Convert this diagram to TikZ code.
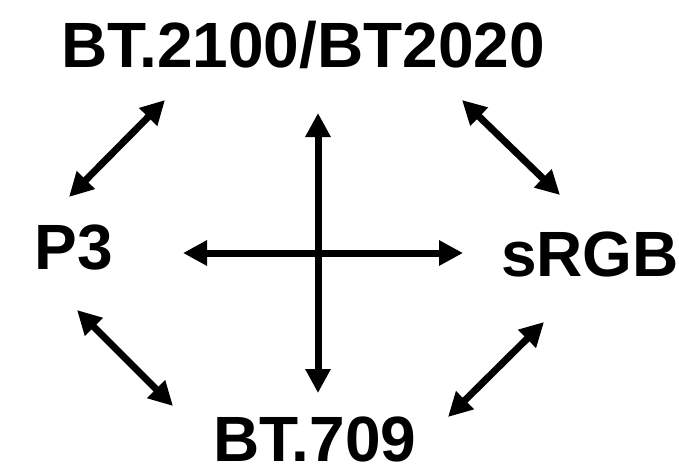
\documentclass[tikz,border=0pt]{standalone}
\usepackage{fontspec}
\setmainfont{Liberation Sans}
\usetikzlibrary{positioning, arrows.meta}

\begin{document}
\begin{tikzpicture}[
    x=1pt, y=-1pt,
    every node/.style={
        anchor=base,
        inner sep=0pt,
        text depth=0pt,
        font=\fontsize{64}{70}\selectfont\bfseries
    },
    arrow/.style={<->, >={Triangle[length=24pt, width=24pt]}, line width=7pt}
]
    \useasboundingbox (0,0) rectangle (679,464);

    \node (bt2100) at (303,67) {BT.2100/BT2020};
    \node (p3)     at (74,269) {P3};
    \node (srgb)   at (590,276) {sRGB};
    \node (bt709)  at (315,461) {BT.709};

    % arrow ends
    \coordinate (tl1) at (165,100);
    \coordinate (tl2) at (69,197);
    \coordinate (tr1) at (462,100);
    \coordinate (tr2) at (560,195);
    \coordinate (bl1) at (77,310);
    \coordinate (bl2) at (173,406);
    \coordinate (br1) at (544,322);
    \coordinate (br2) at (448,417);
    \coordinate (up)    at (318,113);
    \coordinate (down)  at (318,393);
    \coordinate (left)  at (183,253);
    \coordinate (right) at (463,253);

    \draw[arrow] (tl1) -- (tl2);
    \draw[arrow] (tr1) -- (tr2);
    \draw[arrow] (bl1) -- (bl2);
    \draw[arrow] (br1) -- (br2);
    \draw[arrow] (up) -- (down);
    \draw[arrow] (left) -- (right);

\end{tikzpicture}
\end{document}
